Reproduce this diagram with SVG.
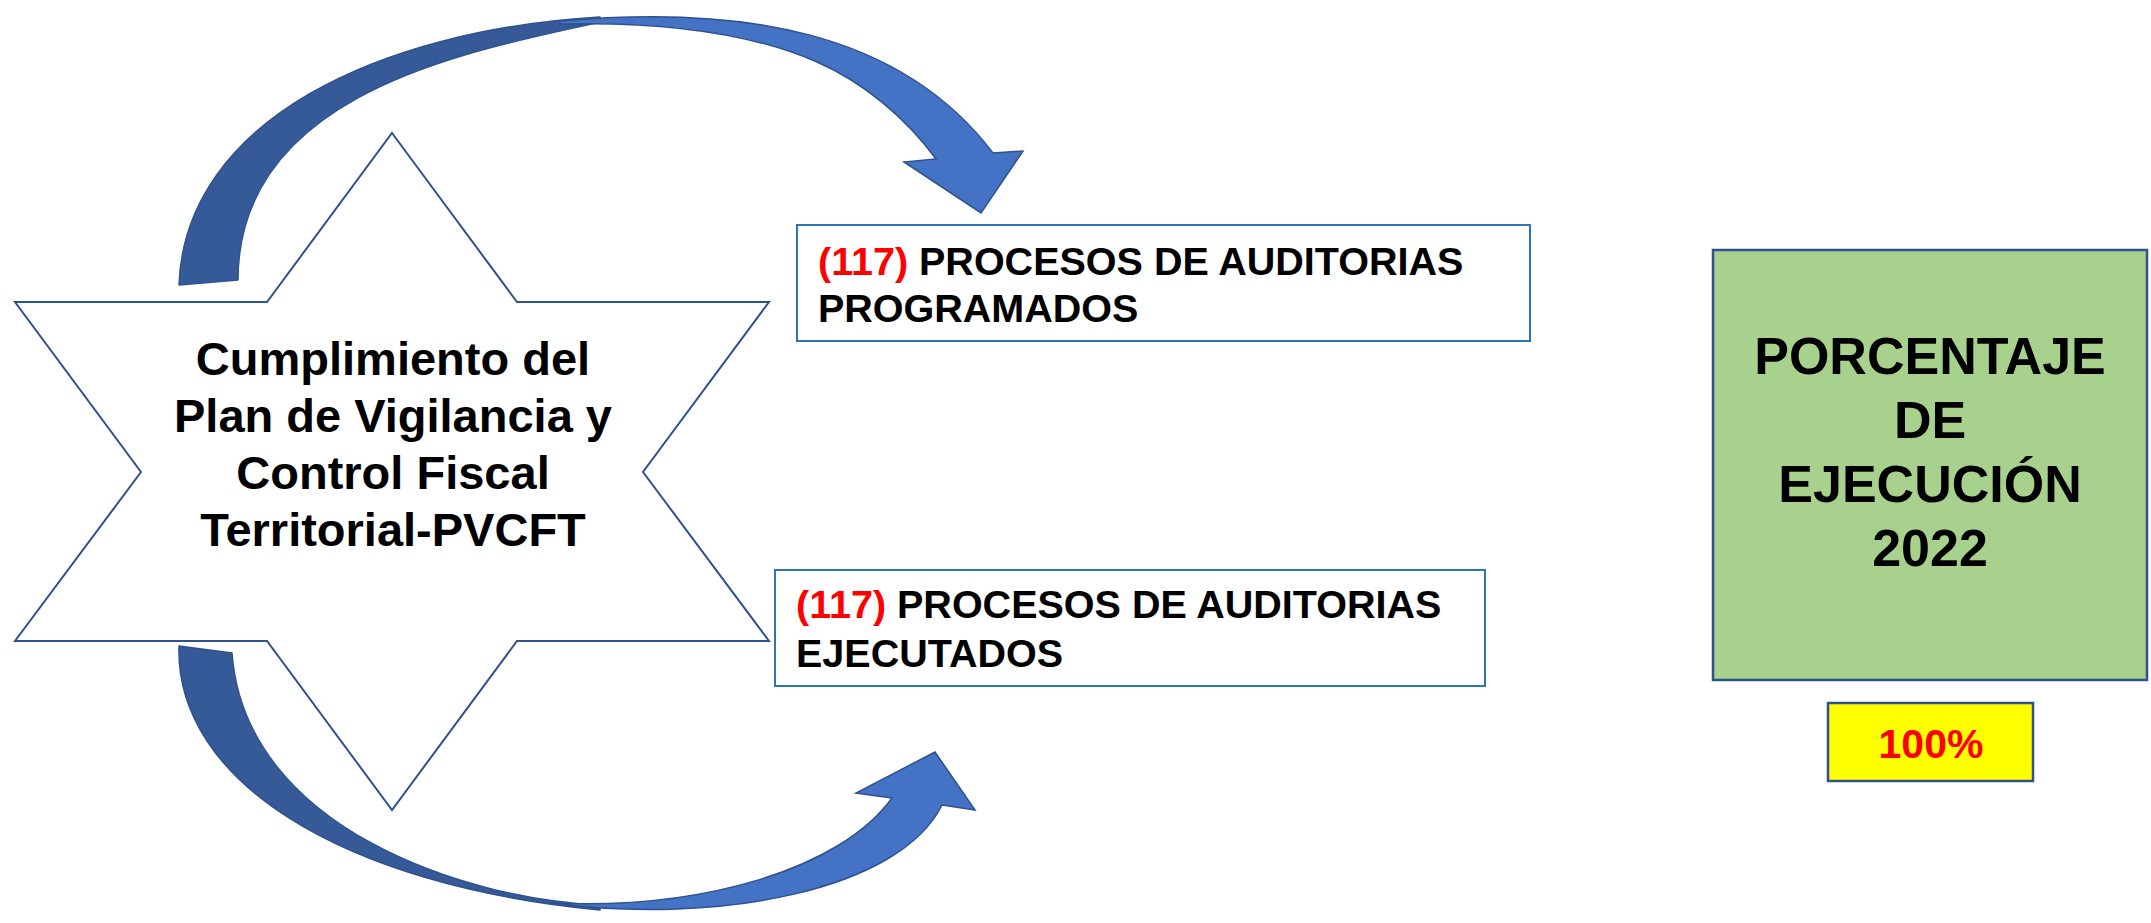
<svg xmlns="http://www.w3.org/2000/svg" width="2151" height="923" viewBox="0 0 2151 923">
<style>
.t{font-family:"Liberation Sans",Arial,sans-serif;font-weight:bold;fill:#000}
.red{fill:#FF0000}
.dark{fill:#355A97;stroke:#2F528F;stroke-width:1.5;stroke-linejoin:round}
.light{fill:#4472C4;stroke:#2F528F;stroke-width:1.5;stroke-linejoin:miter}
.box{fill:#fff;stroke:#2E75B6;stroke-width:2}
</style>
<rect width="2151" height="923" fill="#fff"/>
<g id="star">
<polygon points="392,133 517,302 769,302 643,472 769,641 517,641 392,810 267,641 15,641 141,472 15,302 267,302" fill="#fff" stroke="#2F528F" stroke-width="2"/>
<text class="t" font-size="47" text-anchor="middle"><tspan x="393" y="375">Cumplimiento del</tspan><tspan x="393" y="432">Plan de Vigilancia y</tspan><tspan x="393" y="489">Control Fiscal</tspan><tspan x="393" y="546">Territorial-PVCFT</tspan></text>
</g>
<g id="connectors">
<path class="dark" d="M179,285 C185,120 380,30 600,17 L600,22 C480,50 238,88 238,280 Z"/>
<path class="light" d="M560,21 C740,5 900,30 993,153 L1023,151 L981,213 L904,162 L936,159 C906,118 863,82 817,62 C737,27 640,22 560,24 Z"/>
<path class="dark" d="M179,646 C175,780 340,885 600,910 L600,905 C470,900 245,830 232,653 Z"/>
<path class="light" d="M550,903 C720,925 900,890 942,805 L975,810 L935,752 L856,793 L892,798 C840,870 700,910 550,903 Z"/>
</g>
<g id="programados">
<rect class="box" x="797" y="225" width="733" height="116"/>
<text class="t" font-size="39.5"><tspan x="818" y="275"><tspan class="red">(117)</tspan> PROCESOS DE AUDITORIAS</tspan><tspan x="818" y="322">PROGRAMADOS</tspan></text>
</g>
<g id="ejecutados">
<rect class="box" x="775" y="570" width="710" height="116"/>
<text class="t" font-size="39.5"><tspan x="796" y="618"><tspan class="red">(117)</tspan> PROCESOS DE AUDITORIAS</tspan><tspan x="796" y="667">EJECUTADOS</tspan></text>
</g>
<g id="porcentaje">
<rect x="1713" y="250" width="434" height="430" fill="#A9D18E" stroke="#2F528F" stroke-width="2.5"/>
<text class="t" font-size="52" text-anchor="middle"><tspan x="1930" y="374">PORCENTAJE</tspan><tspan x="1930" y="438">DE</tspan><tspan x="1930" y="502">EJECUCIÓN</tspan><tspan x="1930" y="566">2022</tspan></text>
</g>
<g id="valor">
<rect x="1828" y="703" width="205" height="78" fill="#FFFF00" stroke="#2F528F" stroke-width="2.5"/>
<text class="t red" font-size="41" text-anchor="middle" x="1931" y="758">100%</text>
</g>
</svg>
